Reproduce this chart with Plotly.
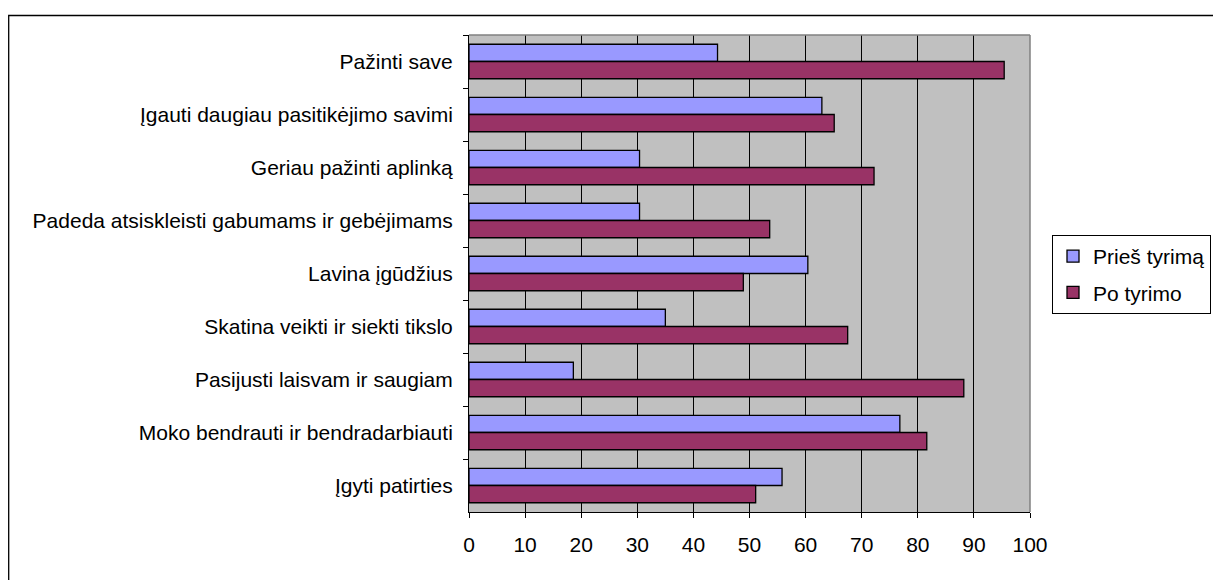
import plotly.graph_objects as go

categories = [
    "Pažinti save",
    "Įgauti daugiau pasitikėjimo savimi",
    "Geriau pažinti aplinką",
    "Padeda atsiskleisti gabumams ir gebėjimams",
    "Lavina įgūdžius",
    "Skatina veikti ir siekti tikslo",
    "Pasijusti laisvam ir saugiam",
    "Moko bendrauti ir bendradarbiauti",
    "Įgyti patirties",
]
pries_tyrima = [44.3, 62.9, 30.4, 30.4, 60.4, 35.0, 18.6, 76.8, 55.8]
po_tyrimo = [95.4, 65.1, 72.2, 53.6, 48.9, 67.5, 88.2, 81.6, 51.1]
x_ticks = list(range(0, 101, 10))

FONT = "Liberation Sans, Arial, sans-serif"
FS = 21

fig = go.Figure()
fig.add_trace(go.Bar(
    y=categories, x=pries_tyrima, orientation="h", name="Prieš tyrimą",
    legendgroup="a",
    marker=dict(color="#9999FF", line=dict(color="black", width=1.3)),
))
fig.add_trace(go.Bar(
    y=categories, x=po_tyrimo, orientation="h", name="Po tyrimo",
    legendgroup="b",
    marker=dict(color="#993366", line=dict(color="black", width=1.3)),
))

OFF = 8  # page body margin
W, H = 1221 - OFF, 580 - OFF
L, R, T, B = 469 - OFF, 1030 - OFF, 35 - OFF, 512 - OFF
pw, ph = R - L, B - T

def px(xp):
    return (xp - OFF - L) / pw

def py(yp):
    return (B - (yp - OFF)) / ph

fig.update_layout(
    width=W, height=H,
    margin=dict(l=L, r=W - R, t=T, b=H - B, pad=0, autoexpand=False),
    paper_bgcolor="white",
    plot_bgcolor="#C0C0C0",
    barmode="group",
    bargap=0.35,
    bargroupgap=0,
    font=dict(family=FONT, size=FS, color="black"),
    showlegend=True,
    legend=dict(
        x=px(1052), y=py(235), xanchor="left", yanchor="top",
        bordercolor="black", borderwidth=1, bgcolor="white",
        font=dict(family=FONT, size=FS, color="black"),
        tracegroupgap=6,
    ),
    xaxis=dict(
        range=[0, 100], tickvals=x_ticks, ticktext=[str(v) for v in x_ticks],
        showgrid=True, gridcolor="#000000", gridwidth=1,
        showline=True, linecolor="black", linewidth=1,
        ticks="outside", ticklen=5, tickcolor="black", tickwidth=1,
        ticklabelstandoff=9, zeroline=False, fixedrange=True,
    ),
    yaxis=dict(
        type="category", autorange="reversed",
        tickson="boundaries",
        showgrid=False, showline=True, linecolor="black", linewidth=1,
        ticks="outside", ticklen=5, tickcolor="black", tickwidth=1,
        ticklabelstandoff=11, fixedrange=True,
    ),
    shapes=[
        dict(type="line", xref="paper", yref="paper", x0=0, x1=1, y0=1, y1=1,
             line=dict(color="#808080", width=1.5), layer="above"),
        dict(type="line", xref="paper", yref="paper", x0=1, x1=1, y0=0, y1=1,
             line=dict(color="#808080", width=1.5), layer="above"),
        dict(type="rect", xref="paper", yref="paper",
             x0=px(8.7), x1=px(1240), y0=py(15.5), y1=py(600),
             line=dict(color="black", width=1.3), fillcolor="rgba(0,0,0,0)",
             layer="below"),
    ],
)

fig.write_html("out.html")
